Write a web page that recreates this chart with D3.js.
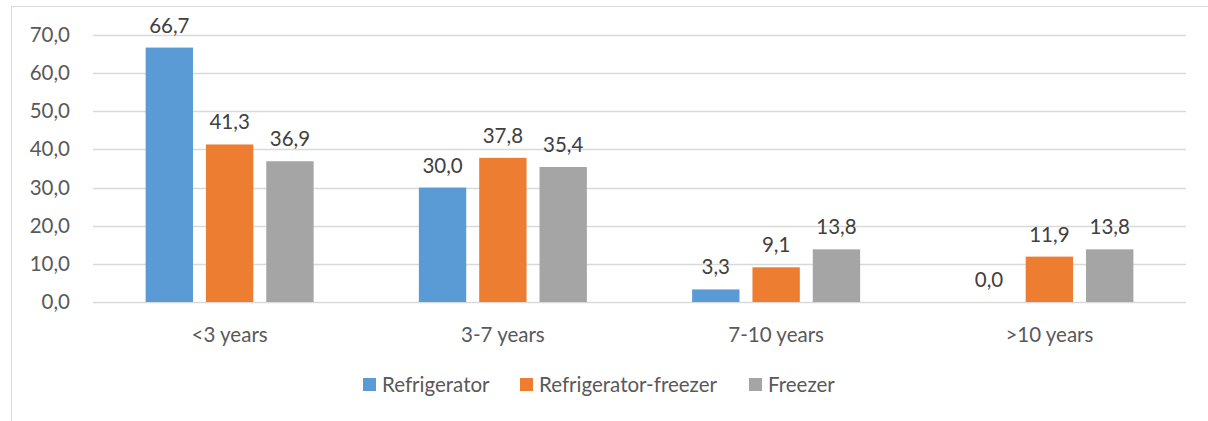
<!DOCTYPE html>
<html>
<head>
<meta charset="utf-8">
<script src="https://cdn.jsdelivr.net/npm/d3@7"></script>
<style>
  body { margin: 0; background: #fff; }
  text { font-family: Lato, "Open Sans", sans-serif; fill: #595959; }
</style>
</head>
<body>
<script>
var categories = ["<3 years", "3-7 years", "7-10 years", ">10 years"];
var seriesNames = ["Refrigerator", "Refrigerator-freezer", "Freezer"];
var refrigerator = [66.7, 30.0, 3.3, 0.0];
var refrigeratorFreezer = [41.3, 37.8, 9.1, 11.9];
var freezer = [36.9, 35.4, 13.8, 13.8];
var yTicks = [0, 10, 20, 30, 40, 50, 60, 70];
var colors = ["#5B9BD5", "#ED7D31", "#A5A5A5"];

var W = 1208, H = 421;
var margin = { top: 35, right: 22, bottom: 119, left: 93 },
  width = W - margin.left - margin.right,
  height = H - margin.top - margin.bottom;
var fs = "20.5px";

var fmt = function(v) { return d3.format(".1f")(v).replace(".", ","); };

var data = categories.map(function(c, i) {
  return {
    cat: c,
    vals: [refrigerator[i], refrigeratorFreezer[i], freezer[i]].map(function(v, j) {
      return { name: seriesNames[j], value: v };
    })
  };
});

var root = d3.select("body").append("svg").attr("width", W).attr("height", H);

// chart border
root.append("rect")
  .attr("x", 11.5).attr("y", 6.5)
  .attr("width", W + 10).attr("height", H + 10)
  .attr("fill", "none").attr("stroke", "#D9D9D9").attr("stroke-width", 1);

var svg = root.append("g")
  .attr("transform", "translate(" + margin.left + "," + margin.top + ")");

var x0 = d3.scaleBand().domain(categories).range([0, width]);
var x1 = d3.scaleBand().domain(seriesNames).range([0, 168]).paddingInner(0.215);
var y = d3.scaleLinear().domain([0, 70]).range([height, 0]);

// gridlines
svg.append("g")
  .selectAll("line")
  .data(yTicks)
  .enter()
  .append("line")
  .attr("x1", 0).attr("x2", width)
  .attr("y1", function(d) { return Math.round(y(d)) + 0.5; })
  .attr("y2", function(d) { return Math.round(y(d)) + 0.5; })
  .attr("stroke", "#D9D9D9").attr("stroke-width", 1.3);

// y axis
var yAxis = d3.axisLeft(y).tickValues(yTicks).tickFormat(fmt).tickSize(0).tickPadding(23);
svg.append("g").call(yAxis)
  .call(function(g) { g.select(".domain").remove(); })
  .selectAll("text")
  .style("font-size", fs)
  .style("font-family", "Lato, sans-serif")
  .style("fill", "#595959");

// x axis labels
svg.append("g")
  .selectAll("text")
  .data(categories)
  .enter()
  .append("text")
  .attr("x", function(d) { return x0(d) + x0.bandwidth() / 2; })
  .attr("y", height + 40)
  .attr("text-anchor", "middle")
  .style("font-size", fs)
  .text(function(d) { return d; });

var group = svg.selectAll(".grp")
  .data(data)
  .enter()
  .append("g")
  .attr("class", "grp")
  .attr("transform", function(d) {
    return "translate(" + (x0(d.cat) + x0.bandwidth() / 2 - 84) + ",0)";
  });

group.selectAll("rect")
  .data(function(d) { return d.vals; })
  .enter()
  .append("rect")
  .attr("x", function(d) { return x1(d.name); })
  .attr("y", function(d) { return y(d.value); })
  .attr("width", x1.bandwidth())
  .attr("height", function(d) { return height - y(d.value); })
  .attr("fill", function(d, i) { return colors[i]; });

group.selectAll(".lbl")
  .data(function(d) { return d.vals; })
  .enter()
  .append("text")
  .attr("class", "lbl")
  .attr("x", function(d) { return x1(d.name) + x1.bandwidth() / 2; })
  .attr("y", function(d) { return y(d.value) - 15; })
  .attr("text-anchor", "middle")
  .style("font-size", fs)
  .style("fill", "#404040")
  .text(function(d) { return fmt(d.value); });

// legend
var legendX = [363, 520, 749];
var legend = root.selectAll(".legend")
  .data(seriesNames)
  .enter()
  .append("g")
  .attr("class", "legend")
  .attr("transform", function(d, i) { return "translate(" + legendX[i] + ",378)"; });

legend.append("rect")
  .attr("width", 13).attr("height", 13)
  .attr("fill", function(d, i) { return colors[i]; });

legend.append("text")
  .attr("x", 19).attr("y", 14)
  .style("font-size", fs)
  .text(function(d) { return d; });
</script>
</body>
</html>
